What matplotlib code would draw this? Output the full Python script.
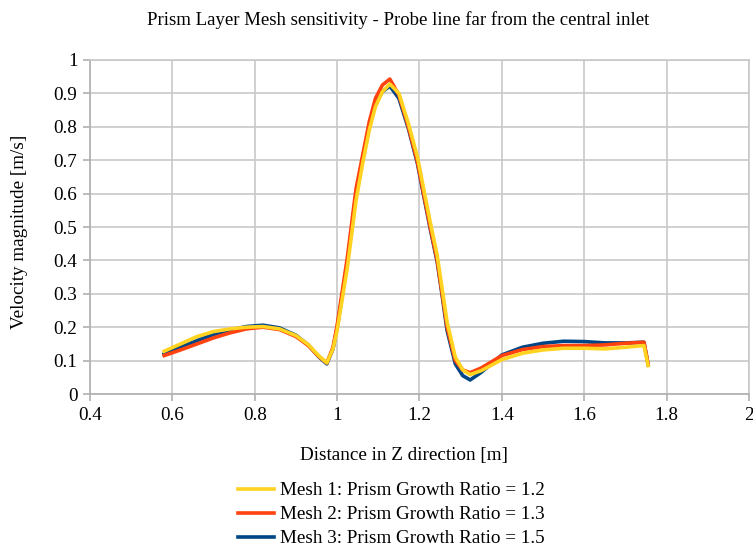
import matplotlib
matplotlib.use('Agg')
import matplotlib.pyplot as plt

# distance along probe line [m]
z = [0.58, 0.62, 0.66, 0.70, 0.74, 0.78, 0.82, 0.86, 0.90, 0.93,
     0.955, 0.975, 0.99, 1.00, 1.025, 1.046, 1.062, 1.078, 1.093, 1.11,
     1.128, 1.15, 1.173, 1.195, 1.21, 1.226, 1.243, 1.255, 1.267, 1.287,
     1.305, 1.323, 1.35, 1.40, 1.45, 1.50, 1.55, 1.60, 1.65, 1.70,
     1.745, 1.755]

# velocity magnitude [m/s]
mesh1 = [0.128, 0.150, 0.172, 0.187, 0.195, 0.200, 0.202, 0.195, 0.175, 0.148,
         0.115, 0.093, 0.135, 0.19, 0.38, 0.58, 0.69, 0.79, 0.86, 0.905,
         0.928, 0.90, 0.81, 0.71, 0.615, 0.515, 0.415, 0.315, 0.215, 0.11,
         0.072, 0.058, 0.07, 0.103, 0.122, 0.132, 0.137, 0.137, 0.135, 0.14,
         0.145, 0.085]
mesh2 = [0.115, 0.132, 0.150, 0.168, 0.183, 0.195, 0.200, 0.193, 0.172, 0.145,
         0.113, 0.093, 0.14, 0.205, 0.41, 0.615, 0.715, 0.815, 0.885, 0.925,
         0.943, 0.895, 0.80, 0.695, 0.60, 0.50, 0.40, 0.30, 0.20, 0.10,
         0.072, 0.064, 0.078, 0.115, 0.133, 0.142, 0.145, 0.145, 0.147, 0.152,
         0.155, 0.09]
mesh3 = [0.120, 0.140, 0.160, 0.178, 0.192, 0.202, 0.206, 0.198, 0.176, 0.147,
         0.112, 0.090, 0.135, 0.198, 0.395, 0.60, 0.70, 0.80, 0.87, 0.905,
         0.922, 0.885, 0.795, 0.69, 0.595, 0.495, 0.395, 0.295, 0.19, 0.09,
         0.055, 0.042, 0.065, 0.117, 0.140, 0.152, 0.158, 0.157, 0.153, 0.153,
         0.155, 0.088]

labels = ['Mesh 1: Prism Growth Ratio = 1.2',
          'Mesh 2: Prism Growth Ratio = 1.3',
          'Mesh 3: Prism Growth Ratio = 1.5']
colors = ['#FFD320', '#FF420E', '#004586']

plt.rcParams['font.family'] = ['Liberation Serif', 'DejaVu Serif']
plt.rcParams['font.size'] = 13.8

fig = plt.figure(figsize=(7.53, 5.54), dpi=100)
ax = fig.add_axes([0.1195, 0.2888, 0.8752, 0.6029])

grid_col = '#c8c8c8'
l3, = ax.plot(z, mesh3, color=colors[2], lw=2.6, zorder=3)
l2, = ax.plot(z, mesh2, color=colors[1], lw=2.6, zorder=4)
l1, = ax.plot(z, mesh1, color=colors[0], lw=2.6, zorder=5)

ax.set_xlim(0.4, 2)
ax.set_ylim(0, 1)
ax.set_xticks([0.4, 0.6, 0.8, 1, 1.2, 1.4, 1.6, 1.8, 2])
ax.set_xticklabels(['0.4', '0.6', '0.8', '1', '1.2', '1.4', '1.6', '1.8', '2'])
ax.set_yticks([i / 10 for i in range(11)])
ax.set_yticklabels(['0', '0.1', '0.2', '0.3', '0.4', '0.5', '0.6', '0.7', '0.8', '0.9', '1'])
ax.grid(True, color=grid_col, lw=1.2)
ax.set_axisbelow(True)
for s in ax.spines.values():
    s.set_color(grid_col)
    s.set_linewidth(1.2)
ax.spines['left'].set_color('#b0b0b0')
ax.spines['bottom'].set_color('#b0b0b0')
ax.tick_params(direction='out', length=5, width=1.2, color='#b0b0b0', pad=4)

ax.set_xlabel('Distance in Z direction [m]', va='center')
ax.xaxis.set_label_coords((404 - 90) / 659, -(455 - 394) / 334, transform=ax.transAxes)
ax.set_ylabel('Velocity magnitude [m/s]', va='center')
ax.yaxis.set_label_coords(-(90 - 20) / 659, (394 - 232) / 334, transform=ax.transAxes)
fig.text(398 / 753, 1 - 20 / 554, 'Prism Layer Mesh sensitivity - Probe line far from the central inlet',
         ha='center', va='center', fontsize=13.5)

fig.legend([l1, l2, l3], labels, loc='upper center', bbox_to_anchor=(391 / 753, 1 - 482 / 554),
           frameon=False, handlelength=1.9, labelspacing=0.34, handletextpad=0.3,
           borderaxespad=0, borderpad=0)

fig.savefig('out.png', dpi=100)
